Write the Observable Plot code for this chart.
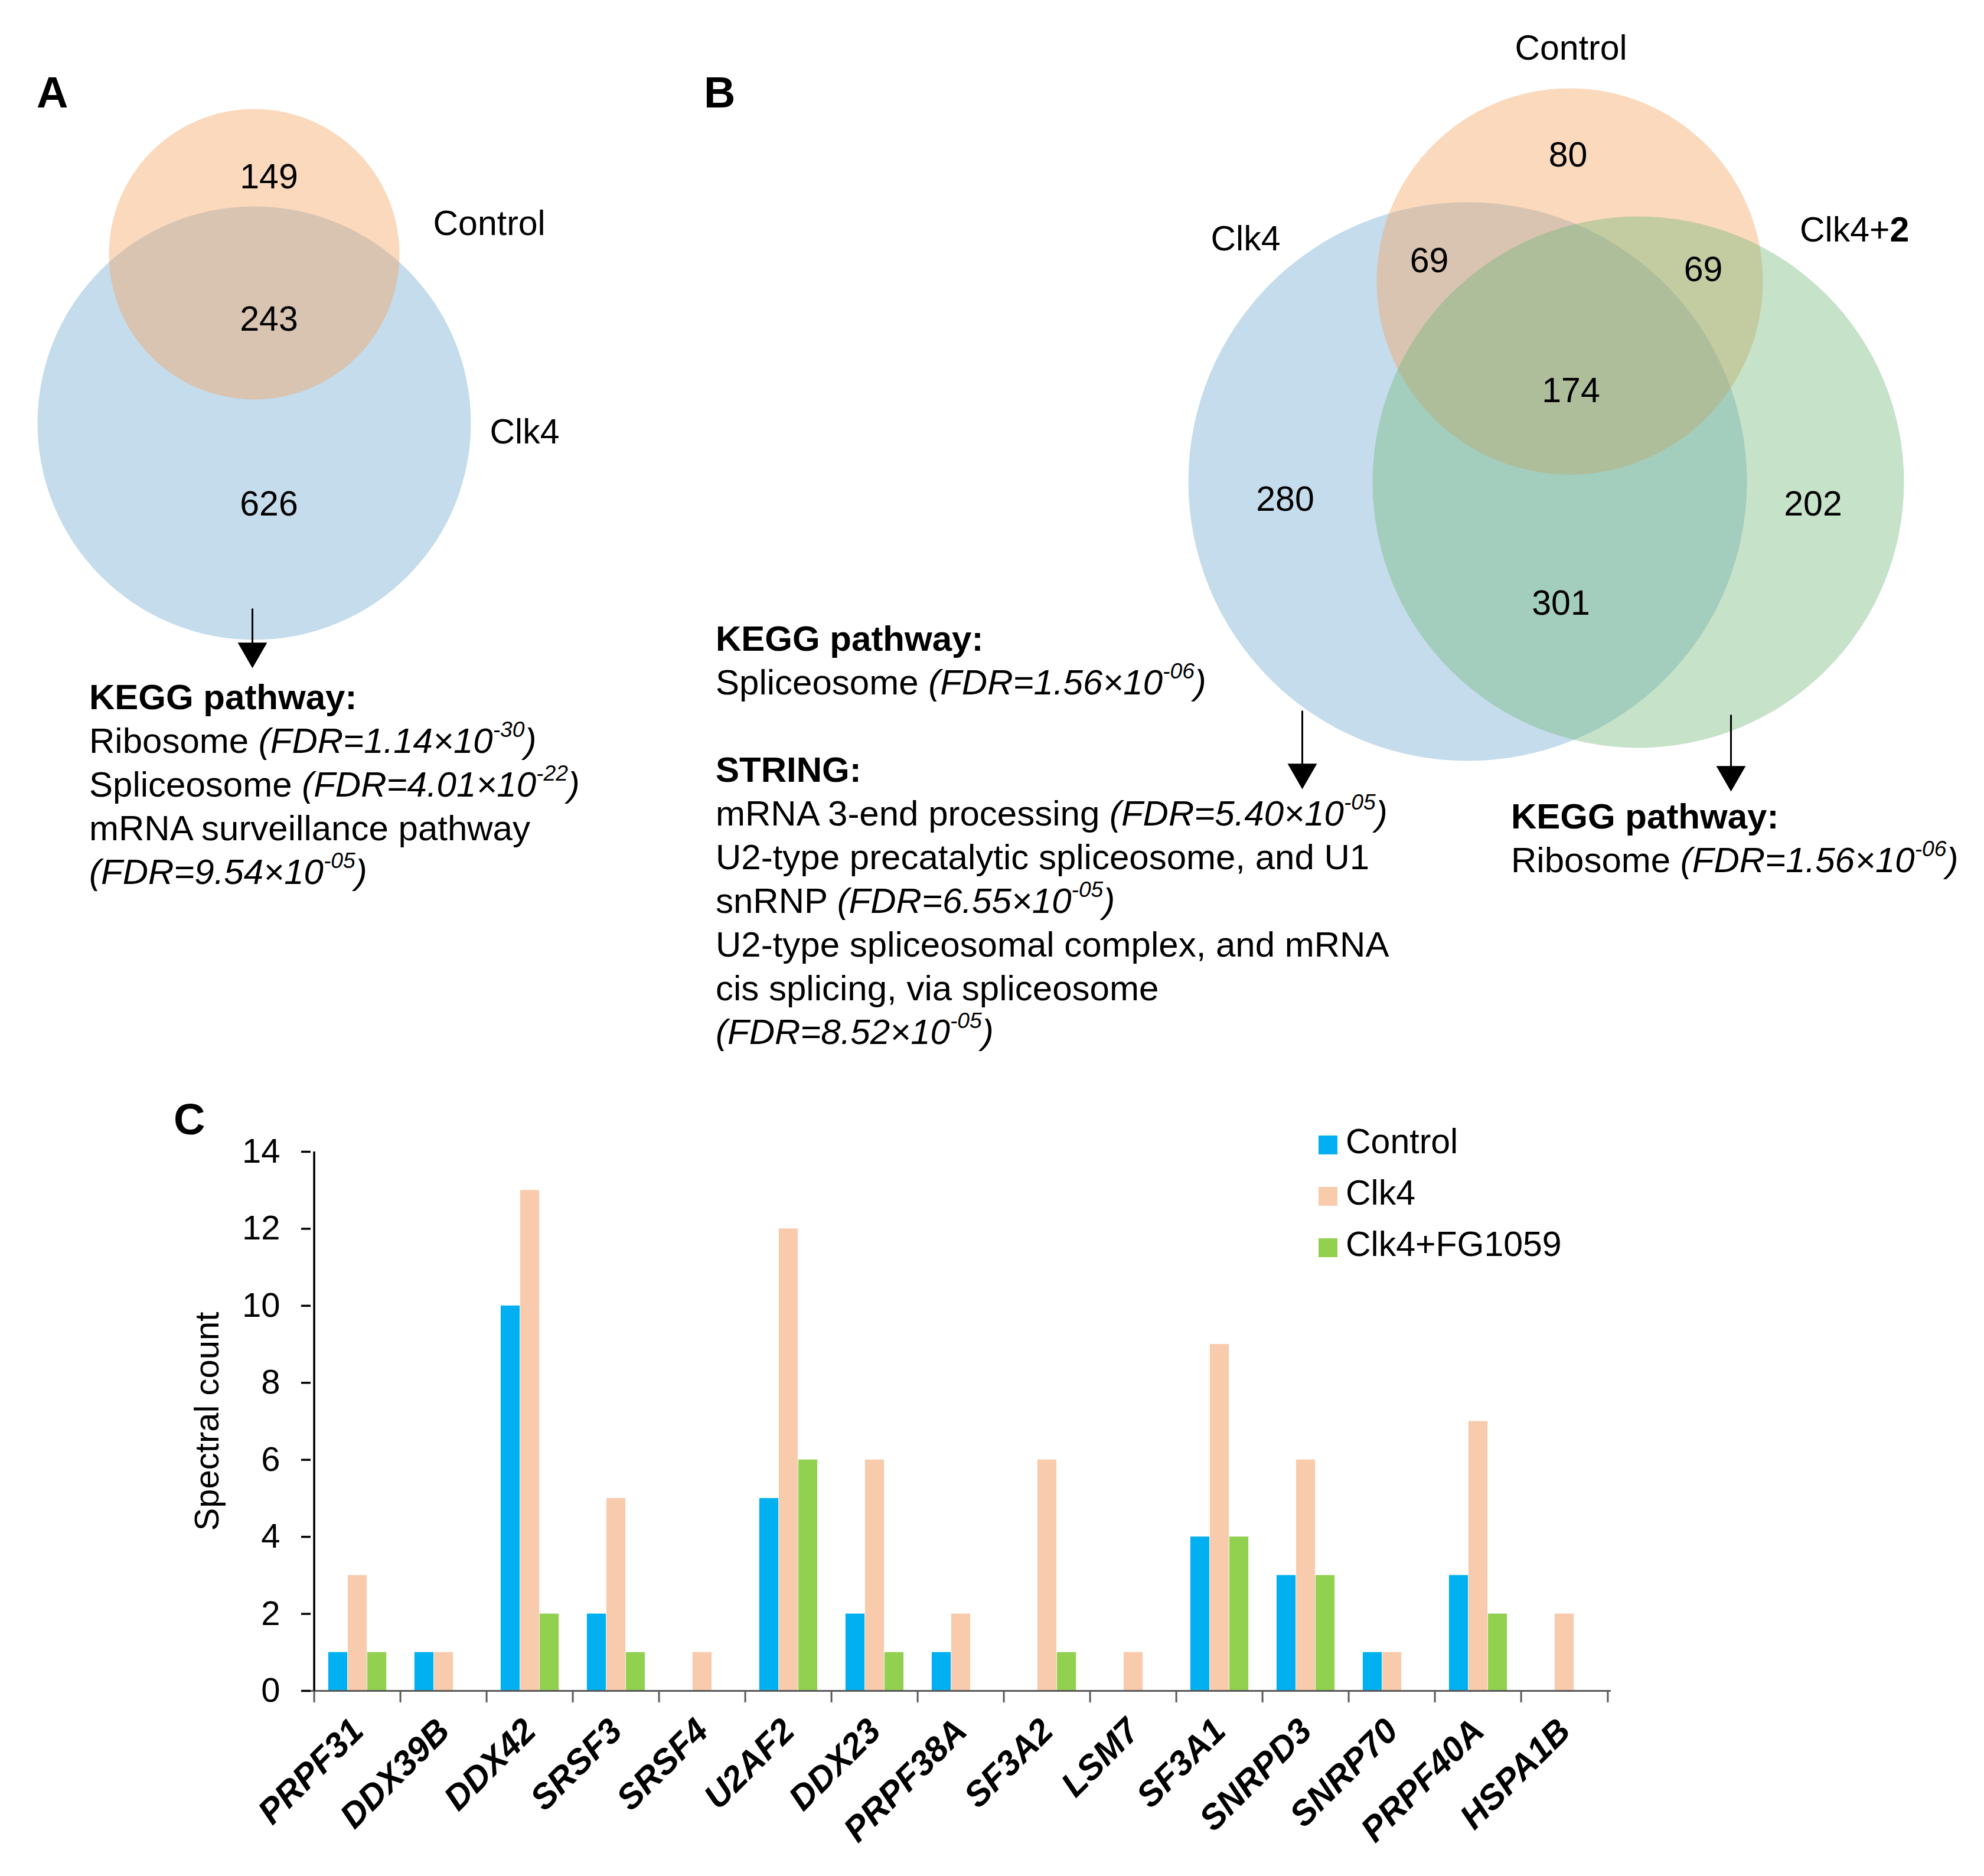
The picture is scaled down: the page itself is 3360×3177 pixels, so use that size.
<!DOCTYPE html>
<html><head><meta charset="utf-8">
<script src="https://cdn.jsdelivr.net/npm/d3@7"></script>
<script src="https://cdn.jsdelivr.net/npm/@observablehq/plot@0.6"></script>
<style>
body{margin:0;background:#fff;}
#page{position:relative;width:3360px;height:3177px;background:#fff;font-family:"Liberation Sans",Arial,sans-serif;color:#000;overflow:hidden}
.abs{position:absolute}
.txt{font-size:60px;line-height:74px;white-space:nowrap}
.fdr{font-style:italic}
.sup{font-size:0.62em;position:relative;top:-0.72em;line-height:0}
.panel{font-size:74px;font-weight:bold;line-height:74px}
.leg{font-size:59px;line-height:87px;white-space:nowrap}
.sw{display:inline-block;width:32px;height:32px;margin-right:14px;vertical-align:-2px}
</style></head><body><div id="page"></div><script>
// ---------------- DATA ----------------
// Panel A Venn (region counts)
const vennASets = ["Control", "Clk4"];
const vennACounts = [149, 243, 626];            // Control only, Control∩Clk4, Clk4 only
// Panel B Venn (region counts)
const vennBSets = ["Control", "Clk4", "Clk4+", "2"];
const vennBCounts = [80, 69, 69, 174, 280, 202, 301]; // C only, C∩Clk4, C∩Clk4+2, all, Clk4 only, Clk4+2 only, Clk4∩Clk4+2
// Panel C bar chart
const genes = ["PRPF31","DDX39B","DDX42","SRSF3","SRSF4","U2AF2","DDX23","PRPF38A","SF3A2","LSM7","SF3A1","SNRPD3","SNRP70","PRPF40A","HSPA1B"];
const seriesNames = ["Control","Clk4","Clk4+FG1059"];
const controlCounts = [1,1,10,2,0,5,2,1,0,0,4,3,1,3,0];
const clk4Counts    = [3,1,13,5,1,12,6,2,6,1,9,6,1,7,2];
const clk4FGCounts  = [1,0,2,1,0,6,1,0,1,0,4,3,0,2,0];
const yTicks = [0,2,4,6,8,10,12,14];
const yTitle = "Spectral count";
// Enrichment annotations
const keggA_terms = [["Ribosome "],["Spliceosome "],["mRNA surveillance pathway",""]];
const keggA_fdr = ["1.14","4.01","9.54"];
const keggA_exp = ["-30","-22","-05"];
const keggB_terms = [["Spliceosome "]];
const keggB_fdr = ["1.56"]; const keggB_exp = ["-06"];
const stringB_terms = [["mRNA 3-end processing "],["U2-type precatalytic spliceosome, and U1","snRNP "],["U2-type spliceosomal complex, and mRNA","cis splicing, via spliceosome",""]];
const stringB_fdr = ["5.40","6.55","8.52"];
const stringB_exp = ["-05","-05","-05"];
const keggC_terms = [["Ribosome "]];
const keggC_fdr = ["1.56"]; const keggC_exp = ["-06"];

// ---------------- LAYOUT / STYLE ----------------
const FONT = '"Liberation Sans", Arial, sans-serif';
const seriesColors = ["#00B0F0","#F8CBAD","#92D050"];
const circleColors = {blue:"rgb(110,167,207)", orange:"rgb(245,160,90)", green:"rgb(112,182,121)"};
const circlesA = [
  {cx:430, cy:716, r:367, fill:circleColors.blue},
  {cx:430, cy:430, r:246, fill:circleColors.orange}
];
const circlesB = [
  {cx:2485, cy:815, r:473, fill:circleColors.blue},
  {cx:2658, cy:476, r:327, fill:circleColors.orange},
  {cx:2774, cy:816, r:450, fill:circleColors.green}
];
const countPosA = [[455,300],[455,541],[455,854]];
const countPosB = [[2655,263],[2420,442],[2884,457],[2660,662],[2176,846],[3070,854],[2643,1022]];
const setLabelPos = [
  {x:733, y:379, anchor:"start", weight:"normal"},
  {x:829, y:732, anchor:"start", weight:"normal"},
  {x:2660, y:82, anchor:"middle", weight:"normal"},
  {x:2109, y:405, anchor:"middle", weight:"normal"},
  {x:3200, y:390, anchor:"end", weight:"normal"},
  {x:3200, y:390, anchor:"start", weight:"bold"}
];
const arrowsLayout = [{x:427, y1:1030, tip:1131},{x:2205, y1:1203, tip:1336},{x:2931, y1:1210, tip:1340}];
const headR = 18.5;
const headHalf = Math.sqrt(Math.PI*headR*headR/(3*Math.sqrt(3)));

const page = document.getElementById("page");

// ---------------- VENN DIAGRAMS ----------------
const setLabels = [...vennASets, ...vennBSets].map((s,i)=>({text:s, ...setLabelPos[i]}));
const countLabels = [
  ...vennACounts.map((c,i)=>({text:String(c), x:countPosA[i][0], y:countPosA[i][1]})),
  ...vennBCounts.map((c,i)=>({text:String(c), x:countPosB[i][0], y:countPosB[i][1]}))
];
const arrows = arrowsLayout.map(a=>({...a, y2:a.tip - 2*headHalf, yc:a.tip - 2*headHalf}));
const circleMarks = [...circlesA, ...circlesB].map(c =>
  Plot.dot([c], {x:"cx", y:"cy", r:"r", fill:"fill", fillOpacity:0.4, stroke:null}));
const labelGroups = [["start","normal"],["middle","normal"],["end","normal"],["start","bold"]];
const venn = Plot.plot({
  width:3360, height:1400, margin:0,
  x:{type:"identity", axis:null}, y:{type:"identity", axis:null}, r:{type:"identity"}, color:{type:"identity"},
  style:{fontFamily:FONT, overflow:"visible", background:"transparent"},
  marks:[
    ...circleMarks,
    Plot.text(countLabels, {x:"x", y:"y", text:"text", fontSize:59, fill:"black"}),
    ...labelGroups.map(([a,w]) => Plot.text(setLabels.filter(d=>d.anchor===a && d.weight===w),
      {x:"x", y:"y", text:"text", textAnchor:a, fontSize:59, fontWeight:w, fill:"black"})),
    Plot.link(arrows, {x1:"x", x2:"x", y1:"y1", y2:"y2", stroke:"black", strokeWidth:3}),
    Plot.dot(arrows, {x:"x", y:"yc", symbol:"triangle", r:headR, rotate:180, fill:"black", stroke:null})
  ]
});
venn.style.position = "absolute"; venn.style.left = "0px"; venn.style.top = "0px";
page.appendChild(venn);

// ---------------- TEXT ANNOTATIONS ----------------
function fdrHTML(f, e){ return `<span class="fdr">(FDR=${f}×10<span class="sup">${e}</span>)</span>`; }
function termsHTML(terms, fdrs, exps){
  return terms.map((t,i)=>{
    const lines = t.slice();
    lines[lines.length-1] += fdrHTML(fdrs[i], exps[i]);
    return lines.join("<br>");
  }).join("<br>");
}
function addDiv(cls, left, top, html){
  const d = document.createElement("div");
  d.className = "abs " + cls; d.style.left = left+"px"; d.style.top = top+"px"; d.innerHTML = html;
  page.appendChild(d); return d;
}
addDiv("panel", 62, 120, "A");
addDiv("panel", 1192, 120, "B");
addDiv("panel", 294, 1859, "C");
addDiv("txt", 151, 1144, "<b>KEGG pathway:</b><br>" + termsHTML(keggA_terms, keggA_fdr, keggA_exp));
addDiv("txt", 1212, 1045, "<b>KEGG pathway:</b><br>" + termsHTML(keggB_terms, keggB_fdr, keggB_exp) +
  "<br>&nbsp;<br><b>STRING:</b><br>" + termsHTML(stringB_terms, stringB_fdr, stringB_exp));
addDiv("txt", 2559, 1346, "<b>KEGG pathway:</b><br>" + termsHTML(keggC_terms, keggC_fdr, keggC_exp));

// ---------------- BAR CHART ----------------
const seriesValues = [controlCounts, clk4Counts, clk4FGCounts];
const tidy = seriesNames.flatMap((s,k)=>genes.map((g,i)=>({gene:g, series:s, value:seriesValues[k][i]})));
const yDomain = [0, 14];
const frameW = 2202, bw = frameW/genes.length, barW = 33;
const tickLen = 20/65.2;
const bars = Plot.plot({
  width:2600, height:1297,
  marginLeft:280, marginRight:118, marginTop:70, marginBottom:314,
  style:{fontFamily:FONT, fontSize:"58px", overflow:"visible", background:"transparent", color:"black"},
  x:{type:"band", domain:genes, padding:0},
  y:{domain:yDomain},
  color:{domain:seriesNames, range:seriesColors},
  marks:[
    ...seriesNames.map((s,i)=>Plot.barY(tidy.filter(d=>d.series===s && d.value>0),
      {x:"gene", y:"value", fill:"series", dx:(i-1)*barW, insetLeft:(bw-barW)/2, insetRight:(bw-barW)/2})),
    Plot.ruleY([0], {stroke:"#595959", strokeWidth:3}),
    Plot.ruleX(genes, {x:d=>d, dx:-bw/2, y1:0, y2:-tickLen, stroke:"#595959", strokeWidth:3}),
    Plot.ruleX([genes[genes.length-1]], {x:d=>d, dx:bw/2, y1:0, y2:-tickLen, stroke:"#595959", strokeWidth:3}),
    Plot.ruleX([genes[0]], {x:d=>d, dx:-bw/2, y1:yDomain[0], y2:yDomain[1], stroke:"black", strokeWidth:3.5}),
    Plot.axisY({ticks:yTicks, tickSize:16, tickPadding:36, fontSize:58, strokeWidth:3.5, stroke:"black", label:null}),
    Plot.text([yTitle], {frameAnchor:"left", textAnchor:"middle", lineAnchor:"middle", rotate:-90, dx:-175, fontSize:58, fill:"black"}),
    Plot.axisX({tickSize:0, tickRotate:-45, tickPadding:58, fontSize:59, fontWeight:"bold", fontStyle:"italic", label:null})
  ]
});
bars.style.position = "absolute"; bars.style.left = "246px"; bars.style.top = "1880px";
page.appendChild(bars);

// legend
addDiv("leg", 2233, 1890, seriesNames.map((s,i)=>`<span class="sw" style="background:${seriesColors[i]}"></span>${s}`).join("<br>"));
</script></body></html>
